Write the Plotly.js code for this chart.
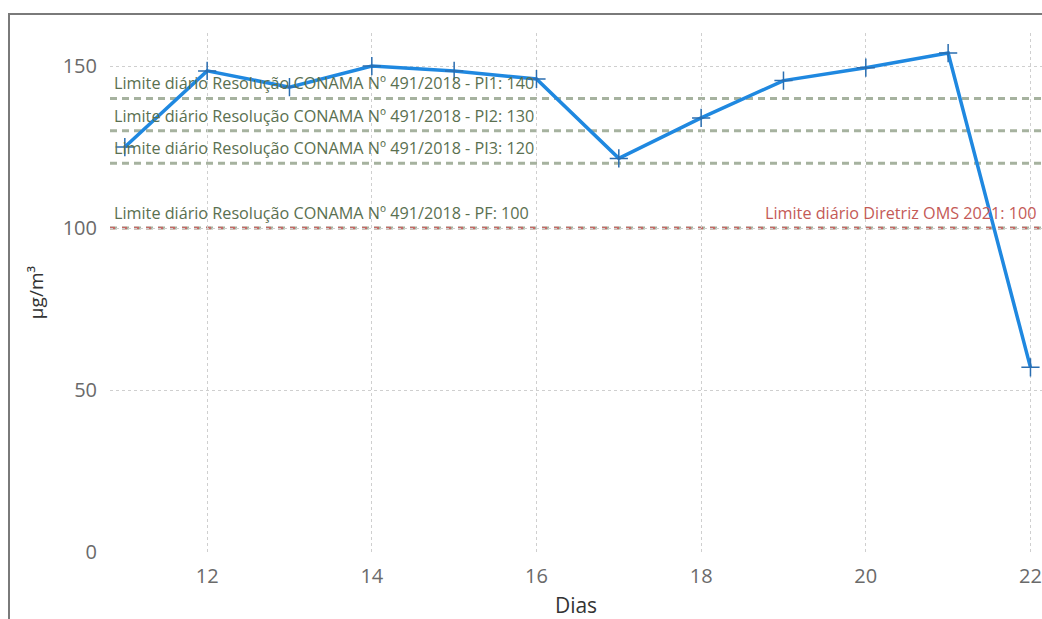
<!DOCTYPE html>
<html>
<head>
<meta charset="utf-8">
<script src="https://cdn.plot.ly/plotly-3.0.1.min.js"></script>
<style>
html,body{margin:0;padding:0;background:#fff;overflow:hidden;width:1042px;height:619px;}
#frame{position:absolute;left:8px;top:13px;width:1100px;height:700px;border:2px solid #7a7a7a;box-sizing:border-box;}
#chart{position:absolute;left:0;top:0;width:1042px;height:619px;}
</style>
</head>
<body>
<div id="frame"></div>
<div id="chart"></div>
<script>
// Data
const dias = [11, 12, 13, 14, 15, 16, 17, 18, 19, 20, 21, 22];
const pm = [125, 148.5, 143.5, 150, 148.5, 146, 121.5, 134, 145.5, 149.5, 154, 57];
const limitValues = [140, 130, 120, 100];
const limitLabels = [
  "Limite diário Resolução CONAMA Nº 491/2018 - PI1: 140",
  "Limite diário Resolução CONAMA Nº 491/2018 - PI2: 130",
  "Limite diário Resolução CONAMA Nº 491/2018 - PI3: 120",
  "Limite diário Resolução CONAMA Nº 491/2018 - PF: 100"
];
const omsValue = [100];
const omsLabel = ["Limite diário Diretriz OMS 2021: 100"];
const xTicks = [12, 14, 16, 18, 20, 22];
const yTicks = [0, 50, 100, 150];

const FONT = "Open Sans, Noto Sans, DejaVu Sans, sans-serif";
const green = "#a6b29f";
const greenText = "#5a7050";
const red = "#c46a66";
const redText = "#c45a57";

const shapes = [];
const annotations = [];
limitValues.forEach((v, i) => {
  shapes.push({type: "line", xref: "paper", x0: 0, x1: 1, yref: "y", y0: v, y1: v,
    line: {color: green, width: 3, dash: "7px,5px"}, layer: "below"});
  annotations.push({xref: "paper", x: 0.002, xanchor: "left", yref: "y", y: v, yanchor: "bottom",
    yshift: 2, text: limitLabels[i], showarrow: false,
    font: {family: FONT, size: 16.2, color: greenText}});
});
omsValue.forEach((v, i) => {
  shapes.push({type: "line", xref: "paper", x0: 0, x1: 1, yref: "y", y0: v, y1: v,
    line: {color: red, width: 2.5, dash: "5px,7px"}, layer: "below"});
  annotations.push({xref: "paper", x: 0.997, xanchor: "right", yref: "y", y: v, yanchor: "bottom",
    yshift: 2, text: omsLabel[i], showarrow: false,
    font: {family: FONT, size: 16.2, color: redText}});
});

const trace = {
  x: dias, y: pm, type: "scatter", mode: "lines+markers",
  line: {color: "#1f88e0", width: 3.5},
  marker: {symbol: "cross-thin-open", size: 13, color: "#2a6db0", line: {color: "#2a6db0", width: 1.5}},
  hoverinfo: "x+y", showlegend: false
};

const layout = {
  width: 1042, height: 619,
  margin: {l: 110, r: 0, t: 33, b: 67, pad: 0},
  paper_bgcolor: "rgba(0,0,0,0)",
  plot_bgcolor: "rgba(0,0,0,0)",
  font: {family: FONT, color: "#666"},
  showlegend: false,
  xaxis: {
    range: [10.82, 22.14], tickvals: xTicks, ticktext: xTicks.map(String),
    showgrid: true, gridcolor: "#cfcfcf", griddash: "dot", gridwidth: 1,
    zeroline: false, showline: false, ticks: "",
    tickfont: {family: FONT, size: 20, color: "#6a6a6a"},
    ticklabelstandoff: 10,
    title: {text: "Dias", font: {family: FONT, size: 21, color: "#333"}, standoff: 11}
  },
  yaxis: {
    range: [0, 160.2], tickvals: yTicks, ticktext: yTicks.map(String),
    showgrid: true, gridcolor: "#cfcfcf", griddash: "dot", gridwidth: 1,
    zeroline: false, showline: false, ticks: "",
    tickfont: {family: FONT, size: 20, color: "#6a6a6a"},
    ticklabelstandoff: 12,
    title: {text: "µg/m³", font: {family: FONT, size: 19, color: "#333"}, standoff: 14}
  },
  shapes: shapes,
  annotations: annotations
};

Plotly.newPlot("chart", [trace], layout, {displayModeBar: false, staticPlot: true});
</script>
</body>
</html>
